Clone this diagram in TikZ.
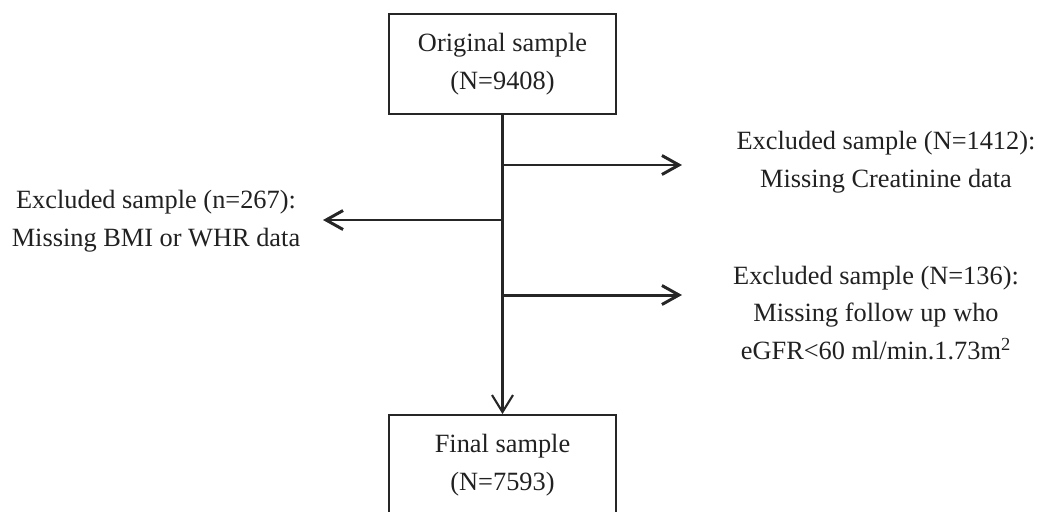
\documentclass[tikz,border=0pt]{standalone}
\usepackage{fontspec}
\setmainfont{Liberation Serif}
\usetikzlibrary{arrows.meta}

\begin{document}
\begin{tikzpicture}[x=0.02cm, y=-0.02cm,
  every node/.style={font=\fontsize{15}{21.6}\selectfont, align=center, text=black!87},
  sample/.style={draw=black!85, line width=1.1pt, minimum width=4.54cm, minimum height=2cm},
  trunk/.style={draw=black!85, line width=1.2pt, -{Straight Barb[length=0.34cm, width=0.42cm, line width=1.2pt]}},
  branch/.style={draw=black!85, line width=1.7pt, -{Straight Barb[length=0.34cm, width=0.38cm, line width=1.7pt]}}]
  \clip (0,0) rectangle (1038,511);

  \node[sample] (orig) at (502.5,64) {Original sample\\(N=9408)};
  \node[sample] (final) at (502.5,465) {Final sample\\(N=7593)};

  \node (ex1) at (886,162) {Excluded sample (N=1412):\\Missing Creatinine data};
  \node (ex2) at (156,221) {Excluded sample (n=267):\\Missing BMI or WHR data};
  \node (ex3) at (876,313) {Excluded sample (N=136):\\Missing follow up who\\eGFR<60 ml/min.1.73m\textsuperscript{2}};

  \coordinate (b1) at (503,165);
  \coordinate (b2) at (503,220);
  \coordinate (b3) at (503,295);
  \coordinate (e1) at (682,165);
  \coordinate (e2) at (323,220);
  \coordinate (e3) at (682,295);

  \draw[trunk] (orig) -- (final);
  \draw[branch] (b1) -- (e1);
  \draw[branch] (b2) -- (e2);
  \draw[branch] (b3) -- (e3);
\end{tikzpicture}
\end{document}
